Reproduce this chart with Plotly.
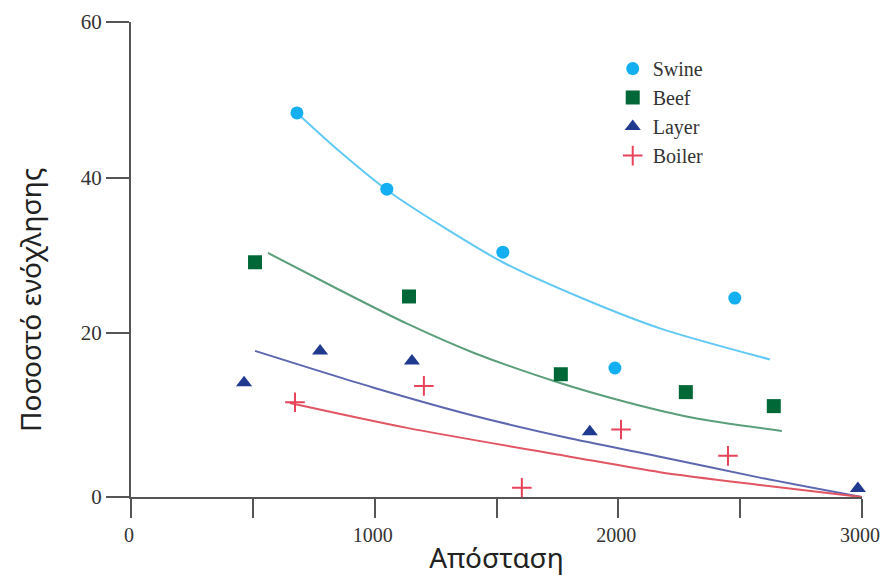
import plotly.graph_objects as go

# Observed data points
swine_x = [681, 1050, 1526, 1986, 2478]
swine_y = [48.3, 38.5, 30.4, 15.5, 24.5]
beef_x = [509, 1141, 1764, 2277, 2638]
beef_y = [29.1, 24.7, 14.7, 12.4, 10.6]
layer_x = [464, 776, 1153, 1883, 2983]
layer_y = [13.6, 17.7, 16.4, 7.3, 0.0]
boiler_x = [673, 1202, 1604, 2011, 2450]
boiler_y = [11.1, 13.2, 0.1, 7.6, 4.2]

# Trend curves
swine_fit_x = [681, 858, 1050, 1268, 1526, 1842, 2171, 2622]
swine_fit_y = [48.3, 43.3, 38.4, 33.9, 29.1, 24.6, 20.6, 16.6]
beef_fit_x = [562, 858, 1133, 1403, 1748, 2035, 2306, 2671]
beef_fit_y = [30.3, 25.5, 21.2, 17.5, 13.7, 11.1, 9.1, 7.4]
layer_fit_x = [509, 993, 1403, 1781, 2171, 2581, 3000]
layer_fit_y = [17.7, 13.0, 9.4, 6.6, 4.1, 1.4, -1.1]
boiler_fit_x = [652, 1133, 1801, 2171, 2581, 3000]
boiler_fit_y = [11.0, 7.8, 4.1, 2.1, 0.45, -1.1]

x_tickvals = [0, 500, 1000, 1500, 2000, 2500, 3000]
x_ticktext = ["0", "", "1000", "", "2000", "", "3000"]
y_min = -1.09
y_tickvals = [y_min, 20, 40, 60]
y_ticktext = ["0", "20", "40", "60"]

series = [
    ("Swine", swine_x, swine_y, swine_fit_x, swine_fit_y, "#14aff0", "#62c9f4", "circle", 13, 0),
    ("Beef", beef_x, beef_y, beef_fit_x, beef_fit_y, "#006837", "#5a9e7a", "square", 14, 0),
    ("Layer", layer_x, layer_y, layer_fit_x, layer_fit_y, "#1f3a8f", "#5c67b0", "triangle-up", 14, 0),
    ("Boiler", boiler_x, boiler_y, boiler_fit_x, boiler_fit_y, "#e8435a", "#e25563", "cross-thin", 14, 2),
]

fig = go.Figure()
for name, x, y, fx, fy, mcol, lcol, sym, size, lw in series:
    fig.add_trace(go.Scatter(
        x=fx, y=fy, mode="lines", line=dict(color=lcol, width=2, shape="spline", smoothing=0.8),
        showlegend=False, hoverinfo="skip", cliponaxis=False))
for name, x, y, fx, fy, mcol, lcol, sym, size, lw in series:
    fig.add_trace(go.Scatter(
        x=x, y=y, mode="markers", name=name, legendgroup=name,
        marker=dict(symbol=sym, size=size, color=mcol,
                    line=dict(color=mcol, width=lw)),
        cliponaxis=False))

fig.update_layout(
    width=872, height=568,
    margin=dict(l=123, r=18, t=14, b=79),
    paper_bgcolor="white", plot_bgcolor="white",
    showlegend=True,
    legend=dict(x=0.659, y=0.943, xanchor="left", yanchor="top",
                font=dict(family="Liberation Serif", size=20, color="#333333"),
                tracegroupgap=0, bgcolor="rgba(0,0,0,0)", itemwidth=30),
    xaxis=dict(range=[0, 3000], tickvals=x_tickvals, ticktext=x_ticktext,
               automargin=False, ticklabelshift=-2,
               showgrid=False, zeroline=False, showline=True,
               linecolor="#555555", linewidth=2, ticks="outside",
               ticklen=19, tickwidth=2, tickcolor="#555555",
               tickfont=dict(family="Liberation Serif", size=20, color="#333333"),
               title=dict(text="Απόσταση", standoff=16,
                          font=dict(family="Noto Sans", size=28, color="#222222"))),
    yaxis=dict(range=[y_min, 60], tickvals=y_tickvals, ticktext=y_ticktext,
               automargin=False,
               showgrid=False, zeroline=False, showline=True,
               linecolor="#555555", linewidth=2, ticks="outside",
               ticklen=23, tickwidth=2, tickcolor="#555555",
               tickfont=dict(family="Liberation Serif", size=21, color="#333333")),
    annotations=[dict(text="Ποσοστό ενόχλησης", textangle=-90,
                      xref="paper", yref="paper", x=-0.138, y=0.415,
                      xanchor="center", yanchor="middle", showarrow=False,
                      font=dict(family="Noto Sans", size=28, color="#222222"))],
)

fig.write_html("out.html")
